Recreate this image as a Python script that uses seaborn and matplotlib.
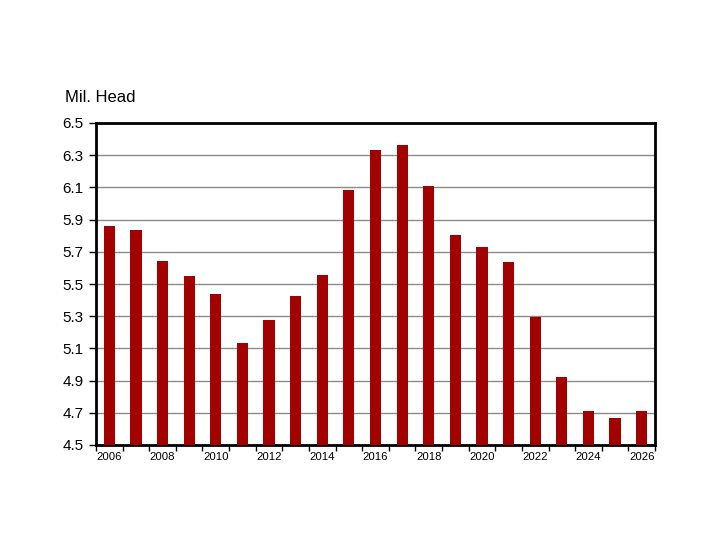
import matplotlib
matplotlib.use("Agg")
import matplotlib.pyplot as plt
import seaborn as sns
import pandas as pd
import numpy as np

years = [str(y) for y in range(2006, 2027)]
values = [5.86, 5.835, 5.643, 5.55, 5.438, 5.134, 5.276, 5.425, 5.556, 6.084,
          6.332, 6.363, 6.109, 5.804, 5.73, 5.637, 5.295, 4.922, 4.711, 4.668, 4.711]
y_ticks = [4.5, 4.7, 4.9, 5.1, 5.3, 5.5, 5.7, 5.9, 6.1, 6.3, 6.5]
unit_label = "Mil. Head"

sns.set_theme(style="white")
plt.rcParams['font.family'] = ['Liberation Sans', 'DejaVu Sans']
plt.rcParams['text.color'] = 'black'
plt.rcParams['xtick.color'] = 'black'
plt.rcParams['ytick.color'] = 'black'
plt.rcParams['xtick.labelcolor'] = 'black'
plt.rcParams['ytick.labelcolor'] = 'black'

df = pd.DataFrame({"year": years, "value": values})

fig = plt.figure(figsize=(7.2, 5.4), dpi=100)
ax = fig.add_axes([96/720, 1 - 445/540, (655 - 96)/720, (445 - 123)/540])

sns.barplot(data=df, x="year", y="value", color="#A30000", width=0.42,
            saturation=1, ax=ax, zorder=3)
for p in ax.patches:
    p.set_edgecolor("none")

ax.set_ylim(4.5, 6.5)
ax.set_xlim(-0.5, len(years) - 0.5)
ax.set_yticks(y_ticks)
ax.set_yticklabels([f"{t:.1f}" for t in y_ticks], fontsize=11, color="black")
ax.yaxis.grid(True, color="#8a8a8a", linewidth=1.0, zorder=0)
ax.set_axisbelow(True)

# x labels every other year, ticks at category boundaries
ax.set_xticks(range(0, len(years), 2))
ax.set_xticklabels(years[::2], fontsize=8.2, color="black")
ax.set_xticks(np.arange(-0.5, len(years), 1), minor=True)
ax.tick_params(axis="x", which="major", length=0, pad=5)
ax.tick_params(axis="x", which="minor", length=4, width=1, color="black", direction="out", bottom=True)
ax.tick_params(axis="y", which="major", length=5, width=1, color="black", direction="out", left=True, pad=4)

for s in ax.spines.values():
    s.set_visible(True)
    s.set_color("black")
    s.set_linewidth(2)

ax.set_xlabel("")
ax.set_ylabel("")
fig.text(65/720, 1 - 97/540, unit_label, fontsize=12, va="center", ha="left", color="black")

fig.savefig("out.png", dpi=100)
